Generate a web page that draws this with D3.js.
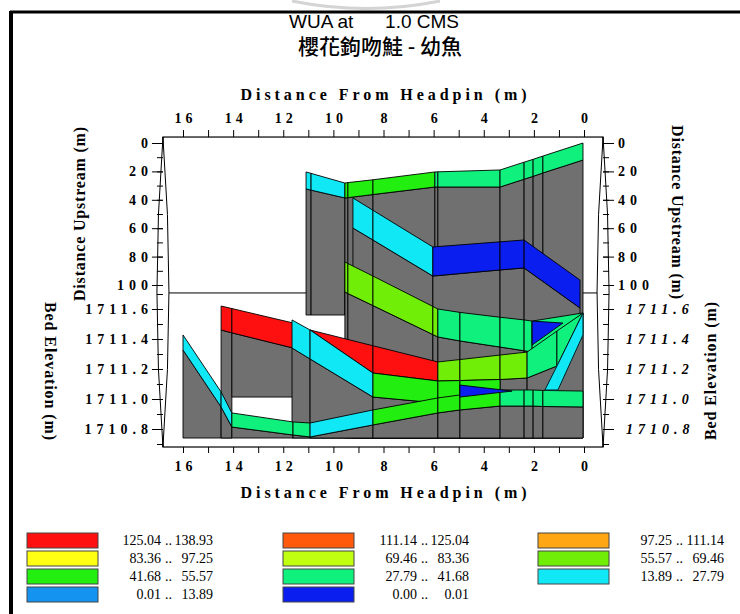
<!DOCTYPE html>
<html>
<head>
<meta charset="utf-8">
<script src="https://cdn.jsdelivr.net/npm/d3@7"></script>
<style>
  html, body { margin: 0; padding: 0; background: #ffffff; }
  svg { display: block; }
  .tick line { stroke: #000; stroke-width: 1; }
  .tick text { font-family: "Liberation Serif", "DejaVu Serif", serif; font-weight: bold; font-size: 14px; fill: #000; }
</style>
</head>
<body>
<svg id="chart" width="740" height="614"></svg>
<script>
// ---- WUA classes (legend) ----
const classLow   = ["125.04", "111.14", "97.25", "83.36", "69.46", "55.57", "41.68", "27.79", "13.89", "0.01", "0.00"];
const classHigh  = ["138.93", "125.04", "111.14", "97.25", "83.36", "69.46", "55.57", "41.68", "27.79", "13.89", "0.01"];
const classColor = ["#ff1010", "#ff5a0c", "#ffa614", "#ffff14", "#c0ff10", "#70ee08", "#22ee10", "#10f07c", "#10e8f6", "#1494f0", "#0a1ef0"];

// ---- axis ticks ----
const distTicks = d3.range(0, 17, 1);          // distance from headpin (m)
const distLabels = d3.range(0, 17, 2);
const upMinor = d3.range(0, 101, 10);          // distance upstream (m)
const upMajor = [0, 20, 40, 60, 80, 100];
const elevMinor = [1710.7, 1710.8, 1710.9, 1711.0, 1711.1, 1711.2, 1711.3, 1711.4, 1711.5, 1711.6, 1711.7];
const elevMajor = [1710.8, 1711.0, 1711.2, 1711.4, 1711.6];

// ---- transects: headpin distance, band top / bottom, cell class, wall floor (bed elevation) ----
// upper transects use distance upstream (m)
const t1Dist  = [11.09, 10.89, 9.54, 9.42, 8.42, 5.95, 5.83, 3.35, 2.39, 2.03, 1.64, 0.04];
const t1Top   = [20.4, 21.4, 28.2, 27.9, 25.9, 20.4, 20.3, 19.0, 13.5, 11.5, 9.2, 0.0];
const t1Bot   = [32.4, 33.2, 38.7, 38.5, 36.3, 31.0, 31.0, 31.0, 25.5, 23.5, 21.1, 12.0];
const t1Class = [8, 8, 6, 6, 6, 7, 7, 7, 7, 7, 7];
const t1Floor = [1711.56];

const t2Dist  = [9.22, 8.42, 6.03, 3.35, 2.39, 0.16];
const t2Top   = [38.7, 47.4, 73.2, 69.6, 68.3, 96.5];
const t2Bot   = [59.9, 68.3, 93.7, 89.4, 88.0, 116.2];
const t2Class = [8, 8, 10, 10, 10];
const t2Floor = [1710.74];

const t3Dist  = [9.54, 9.42, 8.42, 6.03, 5.83, 4.95, 3.35, 2.39, 2.07, 0.04];
const t3Top   = [83.8, 84.9, 93.7, 115.1, 116.9, 119.3, 122.7, 124.6, 125.4, 119.7];
const t3Bot   = [104.9, 106.0, 114.5, 134.9, 136.6, 139.4, 143.7, 146.3, 147.2, 119.7];
const t3Class = [5, 5, 5, 5, 7, 7, 7, 7, 7];
const t3Floor = [1710.74];

const t3PocketDist  = [2.07, 0.84];
const t3PocketTop   = [125.4, 126.8];
const t3PocketBot   = [142.3, 126.8];
const t3PocketClass = [10];

// lower transects use bed elevation (m)
const t4Dist  = [14.48, 14.05, 11.61];
const t4Top   = [1711.62, 1711.603, 1711.507];
const t4Bot   = [1711.46, 1711.441, 1711.34];
const t4Class = [0, 0];
const t4Floor = [1710.74, 1711.013];

const t5Dist  = [10.93, 8.42, 5.83, 4.95, 3.35, 2.27, 1.08, 0.04];
const t5Top   = [1711.46, 1711.355, 1711.247, 1711.263, 1711.293, 1711.313, 1711.453, 1711.573];
const t5Bot   = [1711.46, 1711.173, 1711.12, 1711.123, 1711.13, 1711.14, 1711.22, 1711.573];
const t5Class = [0, 0, 5, 5, 5, 7, 7];
const t5Floor = [1710.74];

const t6Dist  = [11.65, 10.93, 8.42, 5.83, 4.95, 3.35];
const t6Top   = [1711.527, 1711.46, 1711.173, 1711.12, 1711.123, 1711.13];
const t6Bot   = [1711.34, 1711.267, 1711.013, 1710.973, 1710.98, 1710.993];
const t6Class = [8, 8, 6, 6, 6];
const t6Floor = [1710.74];

const t6PocketDist  = [4.95, 2.87];
const t6PocketTop   = [1711.093, 1711.053];
const t6PocketBot   = [1711.013, 1711.053];
const t6PocketClass = [10];

const t7Dist  = [16.0, 14.48, 14.05, 11.61, 10.93, 8.42, 5.83, 4.95, 3.35, 2.39, 2.03, 1.64, 0.04];
const t7Top   = [1711.427, 1711.047, 1710.907, 1710.847, 1710.84, 1710.927, 1711.007, 1711.027, 1711.06, 1711.06, 1711.06, 1711.057, 1711.053];
const t7Bot   = [1711.327, 1710.947, 1710.813, 1710.76, 1710.747, 1710.827, 1710.907, 1710.927, 1710.953, 1710.953, 1710.953, 1710.95, 1710.947];
const t7Class = [8, 8, 7, 7, 8, 6, 6, 6, 7, 7, 7, 7];
const t7Floor = [1710.74];

const t8Dist  = [1.56, 1.04, 0.04];
const t8Top   = [1711.06, 1711.233, 1711.573];
const t8Bot   = [1711.06, 1711.06, 1711.427];
const t8Class = [8, 8];

// ---- plot box (data units) ----
const boxDist = [16.8, -0.76];
const boxUpTop = -4.2;
const boxElevBottom = 1710.68;
const dividerUp = 105.6;

// ---- scales ----
const x = d3.scaleLinear().domain([16, 0]).range([183, 584]);
const yUp = d3.scaleLinear().domain([0, 100]).range([143, 285]);
const yEl = d3.scaleLinear().domain([1710.8, 1711.6]).range([429, 309]);
const yAxisOf = { up: yUp, elev: yEl };

const svg = d3.select("#chart");

// outer frame and faint mark at the top
svg.append("path").attr("d", "M292,1 Q366,16 440,1").attr("fill", "none")
  .attr("stroke", "#d4d4d4").attr("stroke-width", 3);
svg.append("line").attr("x1", 10).attr("x2", 740).attr("y1", 12).attr("y2", 12)
  .attr("stroke", "#000").attr("stroke-width", 3);
svg.append("line").attr("x1", 11).attr("x2", 11).attr("y1", 11).attr("y2", 614)
  .attr("stroke", "#000").attr("stroke-width", 4);

// titles
svg.append("text").attr("x", 374).attr("y", 28).attr("text-anchor", "middle")
  .attr("font-family", "'Liberation Sans', Arial, sans-serif").attr("font-size", 19)
  .text("WUA at\u00a0\u00a0\u00a0\u00a0\u00a0 1.0 CMS");
svg.append("text").attr("x", 380).attr("y", 54).attr("text-anchor", "middle")
  .attr("font-family", "'Noto Sans CJK TC', 'Noto Sans CJK SC', sans-serif").attr("font-size", 21)
  .attr("font-weight", 500)
  .text("櫻花鉤吻鮭 - 幼魚");

const xL = x(boxDist[0]), xR = x(boxDist[1]);
const yT = yUp(boxUpTop), yB = yEl(boxElevBottom);

// plot box
svg.append("rect").attr("x", xL).attr("y", yT).attr("width", xR - xL).attr("height", yB - yT)
  .attr("fill", "#fff").attr("stroke", "#000").attr("stroke-width", 1.2);
svg.append("line").attr("x1", xL).attr("x2", xR).attr("y1", yUp(dividerUp)).attr("y2", yUp(dividerUp))
  .attr("stroke", "#000").attr("stroke-width", 1);

// side axis lenses
function lens(cx) {
  return `M${cx},${yT} Q${cx - 12},${(yT + yB) / 2} ${cx},${yB} Q${cx + 12},${(yT + yB) / 2} ${cx},${yT}Z`;
}
svg.append("path").attr("d", lens(xL)).attr("fill", "#fff").attr("stroke", "#000").attr("stroke-width", 1);
svg.append("path").attr("d", lens(xR)).attr("fill", "#fff").attr("stroke", "#000").attr("stroke-width", 1);

// ---- transects ----
const transects = [
  { axis: "up", dist: t1Dist, top: t1Top, bot: t1Bot, cls: t1Class, floor: t1Floor },
  { axis: "up", dist: t2Dist, top: t2Top, bot: t2Bot, cls: t2Class, floor: t2Floor },
  { axis: "up", dist: t3Dist, top: t3Top, bot: t3Bot, cls: t3Class, floor: t3Floor },
  { axis: "elev", dist: t4Dist, top: t4Top, bot: t4Bot, cls: t4Class, floor: t4Floor },
  { axis: "elev", dist: t5Dist, top: t5Top, bot: t5Bot, cls: t5Class, floor: t5Floor },
  { axis: "elev", dist: t6Dist, top: t6Top, bot: t6Bot, cls: t6Class, floor: t6Floor },
  { axis: "elev", dist: t7Dist, top: t7Top, bot: t7Bot, cls: t7Class, floor: t7Floor },
  { axis: "elev", dist: t8Dist, top: t8Top, bot: t8Bot, cls: t8Class, floor: null, outline: true },
  { axis: "up", dist: t3PocketDist, top: t3PocketTop, bot: t3PocketBot, cls: t3PocketClass, floor: null },
  { axis: "elev", dist: t6PocketDist, top: t6PocketTop, bot: t6PocketBot, cls: t6PocketClass, floor: null }
];

const wallColor = "#707070";
const gPlot = svg.append("g");
const line = d3.line();

transects.forEach(t => {
  const ys = yAxisOf[t.axis];
  const cells = d3.range(t.dist.length - 1).map(i => ({
    x0: x(t.dist[i]), x1: x(t.dist[i + 1]),
    t0: ys(t.top[i]), t1: ys(t.top[i + 1]),
    b0: ys(t.bot[i]), b1: ys(t.bot[i + 1]),
    cls: t.cls[i],
    floor: t.floor ? yEl(t.floor[Math.min(i, t.floor.length - 1)]) : null
  }));
  const g = gPlot.append("g");
  // side walls under each cell
  g.selectAll("path.wall").data(cells.filter(c => c.floor !== null)).join("path")
    .attr("class", "wall")
    .attr("d", c => line([[c.x0, c.b0], [c.x1, c.b1], [c.x1, c.floor], [c.x0, c.floor]]) + "Z")
    .attr("fill", wallColor).attr("stroke", "#000").attr("stroke-width", 0.9)
    .attr("stroke-linejoin", "round");
  // habitat cells
  g.selectAll("path.cell").data(cells).join("path")
    .attr("class", "cell")
    .attr("d", c => line([[c.x0, c.t0], [c.x1, c.t1], [c.x1, c.b1], [c.x0, c.b0]]) + "Z")
    .attr("fill", c => classColor[c.cls])
    .attr("stroke", t.outline ? classColor[t.cls[0]] : "#000")
    .attr("stroke-width", t.outline ? 0.6 : 0.9)
    .attr("stroke-linejoin", "round");
  if (t.outline) {
    const pts = t.dist.map((d, i) => [x(d), ys(t.top[i])])
      .concat(t.dist.map((d, i) => [x(d), ys(t.bot[i])]).reverse());
    g.append("path").attr("d", line(pts) + "Z").attr("fill", "none")
      .attr("stroke", "#000").attr("stroke-width", 0.9);
  }
});

// ---- axes ----
const axTop = svg.append("g").attr("transform", `translate(0,${yT})`)
  .call(d3.axisTop(x).tickValues(distTicks).tickSize(7).tickPadding(7)
    .tickFormat(d => distLabels.includes(d) ? d : ""));
axTop.select(".domain").remove();
axTop.selectAll("text").attr("letter-spacing", 4).attr("dx", "2");

const axBot = svg.append("g").attr("transform", `translate(0,${yB})`)
  .call(d3.axisBottom(x).tickValues(distTicks).tickSize(6).tickPadding(8)
    .tickFormat(d => distLabels.includes(d) ? d : ""));
axBot.select(".domain").remove();
axBot.selectAll("text").attr("letter-spacing", 4).attr("dx", "2");

function sideAxis(axisFn, scale, minor, major, xpos, pad, fmt, italic) {
  const gm = svg.append("g").attr("transform", `translate(${xpos},0)`)
    .call(axisFn(scale).tickValues(minor).tickSize(6).tickFormat(""));
  gm.select(".domain").remove();
  const gM = svg.append("g").attr("transform", `translate(${xpos},0)`)
    .call(axisFn(scale).tickValues(major).tickSize(11).tickPadding(pad).tickFormat(fmt));
  gM.select(".domain").remove();
  gM.selectAll("text").attr("letter-spacing", 5).attr("font-style", italic ? "italic" : "normal");
}
sideAxis(d3.axisLeft, yUp, upMinor, upMajor, xL, -1, d3.format("d"), false);
sideAxis(d3.axisLeft, yEl, elevMinor, elevMajor, xL, -1, d3.format(".1f"), false);
sideAxis(d3.axisRight, yUp, upMinor, upMajor, xR, 4, d3.format("d"), false);
sideAxis(d3.axisRight, yEl, elevMinor, elevMajor, xR, 12, d3.format(".1f"), true);

// axis titles
function axisTitle(txt, cx, cy, rot, len) {
  svg.append("text")
    .attr("transform", `translate(${cx},${cy}) rotate(${rot})`)
    .attr("text-anchor", "middle").attr("dy", "0.35em")
    .attr("font-family", "'Liberation Serif', 'DejaVu Serif', serif")
    .attr("font-weight", "bold").attr("font-size", 16)
    .attr("textLength", len).attr("lengthAdjust", "spacing")
    .text(txt);
}
axisTitle("Distance From Headpin (m)", x(8), 94, 0, 286);
axisTitle("Distance From Headpin (m)", x(8), 492, 0, 286);
axisTitle("Distance Upstream (m)", 79, 214, -90, 174);
axisTitle("Bed Elevation (m)", 51, 371, 90, 138);
axisTitle("Distance Upstream (m)", 678, 212, 90, 174);
axisTitle("Bed Elevation (m)", 710, 371, -90, 138);

// ---- legend ----
const legendCols = [27, 283, 538];
const legendRows = [533, 551, 569, 587];
const legend = svg.append("g");
classLow.forEach((lo, i) => {
  const col = i % 3, row = Math.floor(i / 3);
  const lx = legendCols[col], ly = legendRows[row];
  legend.append("rect").attr("x", lx).attr("y", ly).attr("width", 71).attr("height", 15)
    .attr("fill", classColor[i]).attr("stroke", "#444").attr("stroke-width", 1);
  const tx = lx + 134;
  const txt = legend.append("g").attr("font-family", "'Liberation Serif', 'Times New Roman', serif")
    .attr("font-size", 14).attr("fill", "#000");
  txt.append("text").attr("x", tx).attr("y", ly + 12).attr("text-anchor", "end").text(lo);
  txt.append("text").attr("x", tx + 4).attr("y", ly + 12).text("..");
  txt.append("text").attr("x", tx + 52).attr("y", ly + 12).attr("text-anchor", "end").text(classHigh[i]);
});
</script>
</body>
</html>
